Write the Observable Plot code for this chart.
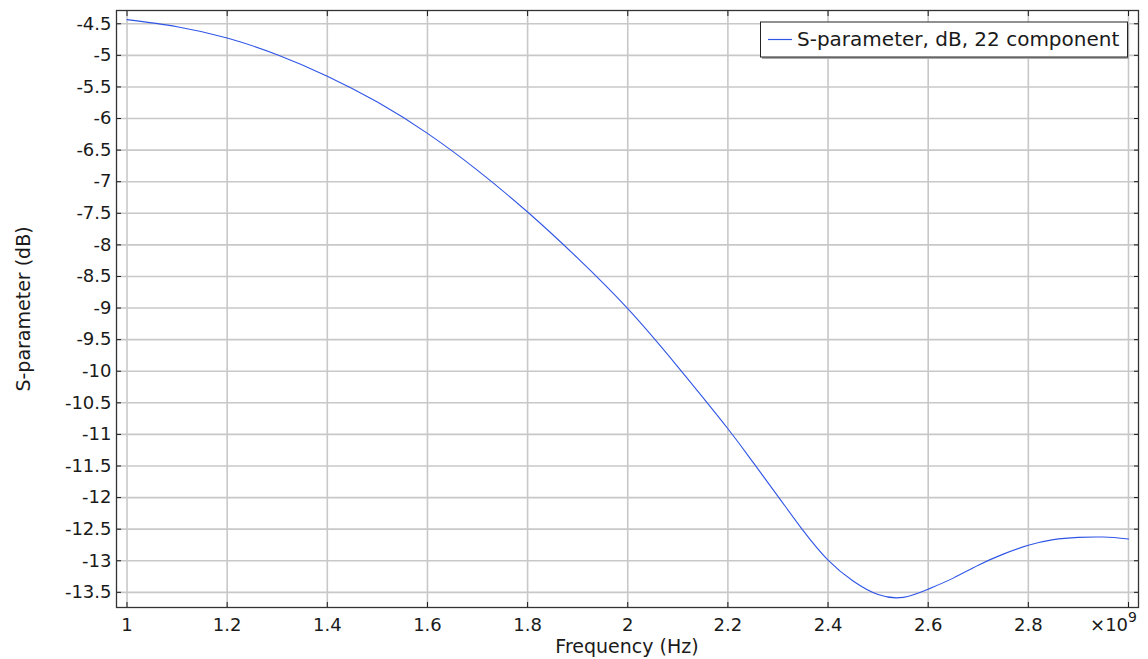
<!DOCTYPE html>
<html><head><meta charset="utf-8">
<script src="https://cdn.jsdelivr.net/npm/d3@7"></script>
<script src="https://cdn.jsdelivr.net/npm/@observablehq/plot@0.6"></script>
<style>body{margin:0;background:#fff} svg{display:block}</style>
</head><body><div id="chart"></div>
<script>
// Frequency in units of 1e9 Hz
const freq = [1.0, 1.1, 1.2, 1.3, 1.4, 1.5, 1.6, 1.7, 1.8, 1.9, 2.0, 2.1, 2.2, 2.25, 2.3, 2.35, 2.4, 2.45, 2.5, 2.55, 2.6, 2.65, 2.7, 2.75, 2.8, 2.85, 2.9, 2.95, 3.0];
const s22 = [-4.435, -4.546, -4.725, -4.99, -5.33, -5.74, -6.235, -6.82, -7.48, -8.21, -9.01, -9.93, -10.91, -11.44, -11.98, -12.52, -12.99, -13.32, -13.535, -13.58, -13.45, -13.275, -13.07, -12.895, -12.755, -12.665, -12.63, -12.625, -12.655];
const xTicks = [1, 1.2, 1.4, 1.6, 1.8, 2, 2.2, 2.4, 2.6, 2.8, 3];
const yTicks = [-13.5, -13, -12.5, -12, -11.5, -11, -10.5, -10, -9.5, -9, -8.5, -8, -7.5, -7, -6.5, -6, -5.5, -5, -4.5];
const xTickLabels = ["1", "1.2", "1.4", "1.6", "1.8", "2", "2.2", "2.4", "2.6", "2.8", ""];
const seriesName = "S-parameter, dB, 22 component";
const xLabel = "Frequency (Hz)";
const yLabel = "S-parameter (dB)";
const xExponent = "9";

const data = freq.map((f, i) => ({f, v: s22[i]}));
const W = 1148, H = 659;
const font = "'DejaVu Sans', sans-serif";
const lineColor = "#2f55e6";
const gridStyle = {stroke: "#c8c8c8", strokeOpacity: 1, strokeWidth: 1.6};

const plot = Plot.plot({
  width: W, height: H,
  marginLeft: 116, marginRight: 10, marginTop: 10, marginBottom: 52,
  style: {fontFamily: font, fontSize: "18px", background: "#fff", color: "#1a1a1a"},
  x: {domain: [0.979, 3.02], label: null},
  y: {domain: [-13.74, -4.29], label: null},
  marks: [
    Plot.gridX(xTicks, gridStyle),
    Plot.gridY(yTicks, gridStyle),
    Plot.axisX(xTicks, {anchor: "bottom", tickSize: -5, tickPadding: 16, tickFormat: (d, i) => xTickLabels[i], label: null}),
    Plot.axisX(xTicks, {anchor: "top", tickSize: -5, tickFormat: () => "", label: null}),
    Plot.axisY(yTicks, {anchor: "left", tickSize: -5, tickPadding: 10, tickFormat: d => String(d), label: null}),
    Plot.axisY(yTicks, {anchor: "right", tickSize: -5, tickFormat: () => "", label: null}),
    Plot.line(data, {x: "f", y: "v", stroke: lineColor, strokeWidth: 1.1, curve: "natural"}),
    Plot.frame({stroke: "#333", strokeWidth: 1.3})
  ]
});

const svg = d3.select(plot);
// axis titles
svg.append("text").attr("x", 627).attr("y", 653).attr("text-anchor", "middle")
  .attr("font-family", font).attr("font-size", 19).attr("fill", "#1a1a1a").text(xLabel);
svg.append("text").attr("transform", "translate(30,309) rotate(-90)").attr("text-anchor", "middle")
  .attr("font-family", font).attr("font-size", 19).attr("fill", "#1a1a1a").text(yLabel);
// exponent
const ex = svg.append("text").attr("x", 1137).attr("y", 631).attr("text-anchor", "end")
  .attr("font-family", font).attr("font-size", 18).attr("fill", "#1a1a1a");
ex.append("tspan").text("×10");
ex.append("tspan").attr("dy", -9).attr("font-size", 14).text(xExponent);
// legend
const lg = svg.append("g");
lg.append("rect").attr("x", 762).attr("y", 24).attr("width", 367).attr("height", 35).attr("fill", "#aaa");
lg.append("rect").attr("x", 760.5).attr("y", 22).attr("width", 367).attr("height", 35)
  .attr("fill", "#fff").attr("stroke", "#222").attr("stroke-width", 1);
lg.append("line").attr("x1", 768).attr("x2", 792).attr("y1", 39.5).attr("y2", 39.5)
  .attr("stroke", lineColor).attr("stroke-width", 1.2);
lg.append("text").attr("x", 797).attr("y", 46).attr("text-anchor", "start").attr("font-family", font).attr("font-size", 20)
  .attr("fill", "#1a1a1a").text(seriesName);

document.getElementById("chart").appendChild(plot);
</script>
</body></html>
